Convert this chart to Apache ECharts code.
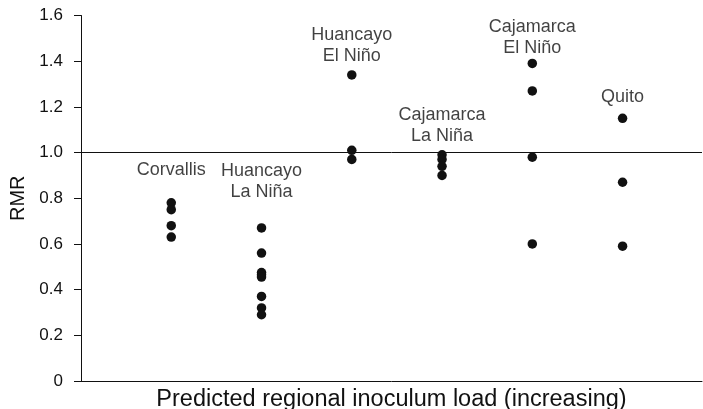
<!DOCTYPE html>
<html><head><meta charset="utf-8">
<script src="https://cdn.jsdelivr.net/npm/echarts@6/dist/echarts.min.js"></script>
<style>html,body{margin:0;padding:0;background:#fff}#c{width:703px;height:409px}</style>
</head><body><div id="c"></div>
<script>
const groups = ['Corvallis', 'Huancayo\nLa Niña', 'Huancayo\nEl Niño', 'Cajamarca\nLa Niña', 'Cajamarca\nEl Niño', 'Quito'];
const corvallis = [0.78, 0.75, 0.68, 0.63];
const huancayoLaNina = [0.67, 0.56, 0.475, 0.465, 0.455, 0.37, 0.32, 0.29];
const huancayoElNino = [1.34, 1.01, 0.97];
const cajamarcaLaNina = [0.99, 0.97, 0.94, 0.90];
const cajamarcaElNino = [1.39, 1.27, 0.98, 0.60];
const quito = [1.15, 0.87, 0.59];
const labelY = [0.924, 0.875, 1.469, 1.119, 1.504, 1.243];
const yTicks = [0, 0.2, 0.4, 0.6, 0.8, 1.0, 1.2, 1.4, 1.6];
const refLine = 1.0;

const allGroups = [corvallis, huancayoLaNina, huancayoElNino, cajamarcaLaNina, cajamarcaElNino, quito];
const pts = [];
allGroups.forEach((arr, i) => arr.forEach(v => pts.push([i + 1, v])));
const labelPts = groups.map((g, i) => ({ value: [i + 1, labelY[i]], name: g }));

const font = 'Liberation Sans, Arial, Helvetica, sans-serif';
const ink = '#111';
const chart = echarts.init(document.getElementById('c'));
chart.setOption({
  animation: false,
  grid: { left: 81, right: 1, top: 15.5, bottom: 28, containLabel: false, outerBoundsMode: 'none' },
  xAxis: {
    type: 'value', min: 0, max: 6.88,
    axisLine: { show: true, lineStyle: { color: ink, width: 1 } },
    axisTick: { show: false }, axisLabel: { show: false }, splitLine: { show: false },
    name: 'Predicted regional inoculum load (increasing)', nameLocation: 'middle', nameGap: 7,
    nameTextStyle: { fontFamily: font, fontSize: 23.5, color: ink }
  },
  yAxis: {
    type: 'value', min: 0, max: 1.6, interval: 0.2,
    axisLine: { show: true, lineStyle: { color: ink, width: 1 } },
    axisTick: { show: true, length: 7, lineStyle: { color: ink } },
    axisLabel: { fontFamily: font, fontSize: 17, color: ink, margin: 18,
      formatter: v => { const t = yTicks.find(x => Math.abs(x - v) < 1e-6); return t === 0 ? '0' : t.toFixed(1); } },
    splitLine: { show: false },
    name: 'RMR', nameLocation: 'middle', nameGap: 43, nameRotate: 90,
    nameTextStyle: { fontFamily: font, fontSize: 20, color: ink }
  },
  series: [
    {
      type: 'scatter', data: pts, symbolSize: 9.5,
      itemStyle: { color: ink, opacity: 1 },
      markLine: {
        silent: true, symbol: 'none', label: { show: false },
        lineStyle: { color: ink, width: 1, type: 'solid' },
        data: [{ yAxis: refLine }]
      }
    },
    {
      type: 'scatter', data: labelPts, symbolSize: 0,
      label: { show: true, position: 'inside', formatter: p => p.name,
        fontFamily: font, fontSize: 18, lineHeight: 21, color: ink, align: 'center' }
    }
  ]
});
</script></body></html>
